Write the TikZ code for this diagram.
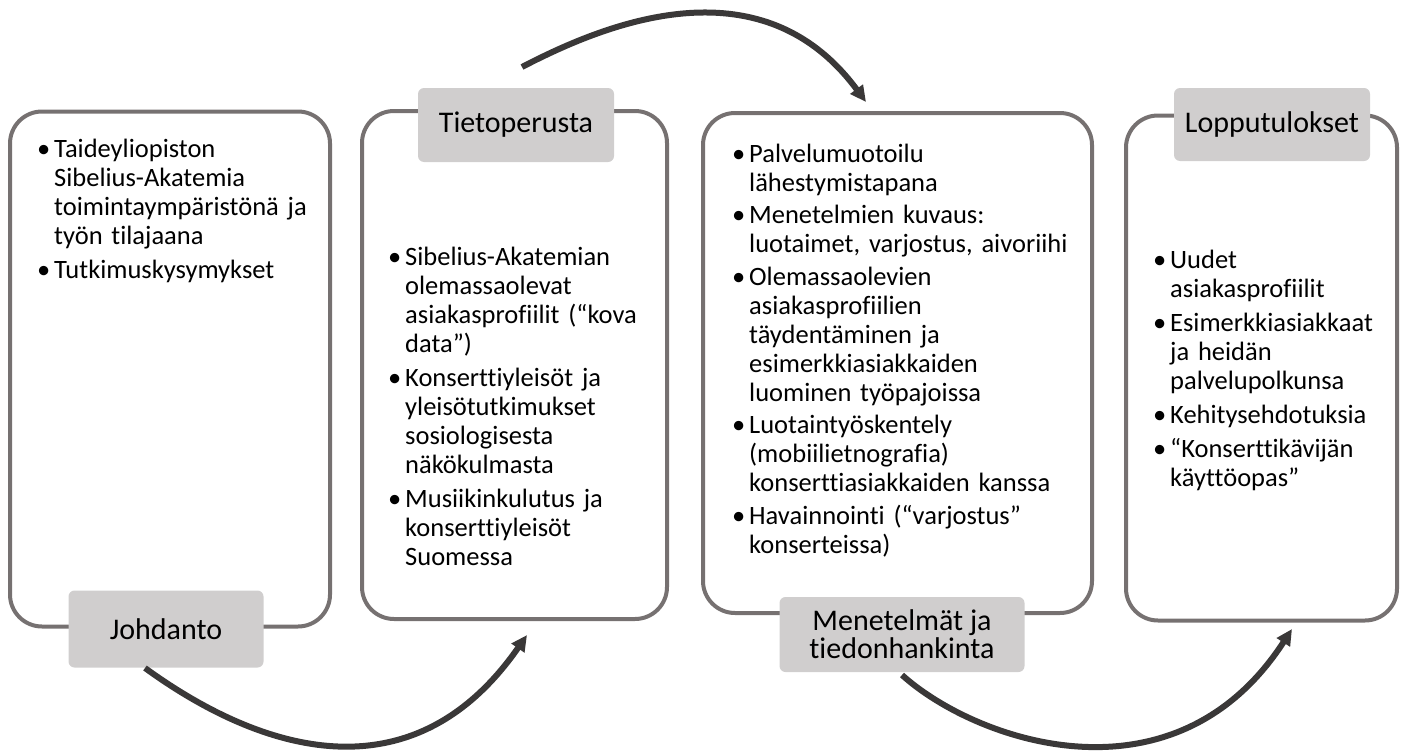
\documentclass[tikz,border=0pt]{standalone}
\usepackage{fontspec}
\setmainfont{Carlito}[Ligatures=NoCommon]
\usetikzlibrary{arrows.meta}
\definecolor{framec}{HTML}{767171}
\definecolor{tagfill}{HTML}{D0CECE}
\definecolor{arrowc}{HTML}{3A3838}
\newcommand{\bodyfont}{\fontsize{26.5}{29}\selectfont}
\newcommand{\tagfont}{\fontsize{30}{30}\selectfont}
\newcommand{\bfirst}{\noindent\makebox[17pt][l]{\textbullet}}
\newcommand{\bitem}{\par\bfirst}
\newcommand{\nl}{\newline\hspace*{17pt}}
\tikzset{
  panel/.style={draw=framec, line width=4pt, rounded corners=32pt, rectangle, inner sep=0pt},
  tagbox/.style={fill=tagfill, rounded corners=6pt, inner sep=0pt, font=\tagfont, align=center, text=black},
  listtext/.style={anchor=base west, inner sep=0pt, text width=#1, font=\bodyfont},
  flow/.style={draw=arrowc, line width=6pt, -{Triangle[length=16pt,width=15pt]}},
}
\begin{document}
\begin{tikzpicture}[x=1pt,y=-1pt]
\useasboundingbox (0,0) rectangle (1402,752);

% panels
\node[panel, minimum width=320, minimum height=515] (p1) at (170,369) {};
\node[panel, minimum width=305, minimum height=508] (p2) at (514.5,365) {};
\node[panel, minimum width=389, minimum height=500] (p3) at (897.5,363) {};
\node[panel, minimum width=271, minimum height=505] (p4) at (1261.5,368) {};

% tags
\node[tagbox, minimum width=195, minimum height=77] (t1) at (166,629) {Johdanto};
\node[tagbox, minimum width=196, minimum height=74] (t2) at (516,125) {Tietoperusta};
\node[tagbox, minimum width=245, minimum height=75] (t3) at (902,634.5) {Menetelmät ja\\[-2pt]tiedonhankinta};
\node[tagbox, minimum width=196, minimum height=73] (t4) at (1272,124.5) {Lopputulokset};

% lists
\node[listtext=285pt] (l1) at (37,157) {\raggedright\setlength{\parskip}{5pt}%
\bfirst Taideyliopiston\nl Sibelius-Akatemia\nl toimintaympäristönä ja\nl työn tilajaana
\bitem Tutkimuskysymykset};

\node[listtext=275pt] (l2) at (388,265) {\raggedright\setlength{\parskip}{5pt}%
\bfirst Sibelius-Akatemian\nl olemassaolevat\nl asiakasprofiilit (“kova\nl data”)
\bitem Konserttiyleisöt ja\nl yleisötutkimukset\nl sosiologisesta\nl näkökulmasta
\bitem Musiikinkulutus ja\nl konserttiyleisöt\nl Suomessa};

\node[listtext=355pt] (l3) at (732,162) {\raggedright\setlength{\parskip}{3.5pt}%
\bfirst Palvelumuotoilu\nl lähestymistapana
\bitem Menetelmien kuvaus:\nl luotaimet, varjostus, aivoriihi
\bitem Olemassaolevien\nl asiakasprofiilien\nl täydentäminen ja\nl esimerkkiasiakkaiden\nl luominen työpajoissa
\bitem Luotaintyöskentely\nl (mobiilietnografia)\nl konserttiasiakkaiden kanssa
\bitem Havainnointi (“varjostus”\nl konserteissa)};

\node[listtext=240pt] (l4) at (1153,268) {\raggedright\setlength{\parskip}{5pt}%
\bfirst Uudet\nl asiakasprofiilit
\bitem Esimerkkiasiakkaat\nl ja heidän\nl palvelupolkunsa
\bitem Kehitysehdotuksia
\bitem “Konserttikävijän\nl käyttöopas”};

% arrows
\coordinate (a1s) at (145,668);
\coordinate (a1e) at (527,635);
\coordinate (a2s) at (522,67);
\coordinate (a2e) at (866,102);
\coordinate (a3s) at (902,675);
\coordinate (a3e) at (1292,629);
\draw[flow] (a1s) .. controls (262,753) and (413,799) .. (a1e);
\draw[flow] (a2s) .. controls (599,27) and (759,-43) .. (a2e);
\draw[flow] (a3s) .. controls (975,741) and (1174,811) .. (a3e);
\end{tikzpicture}
\end{document}
